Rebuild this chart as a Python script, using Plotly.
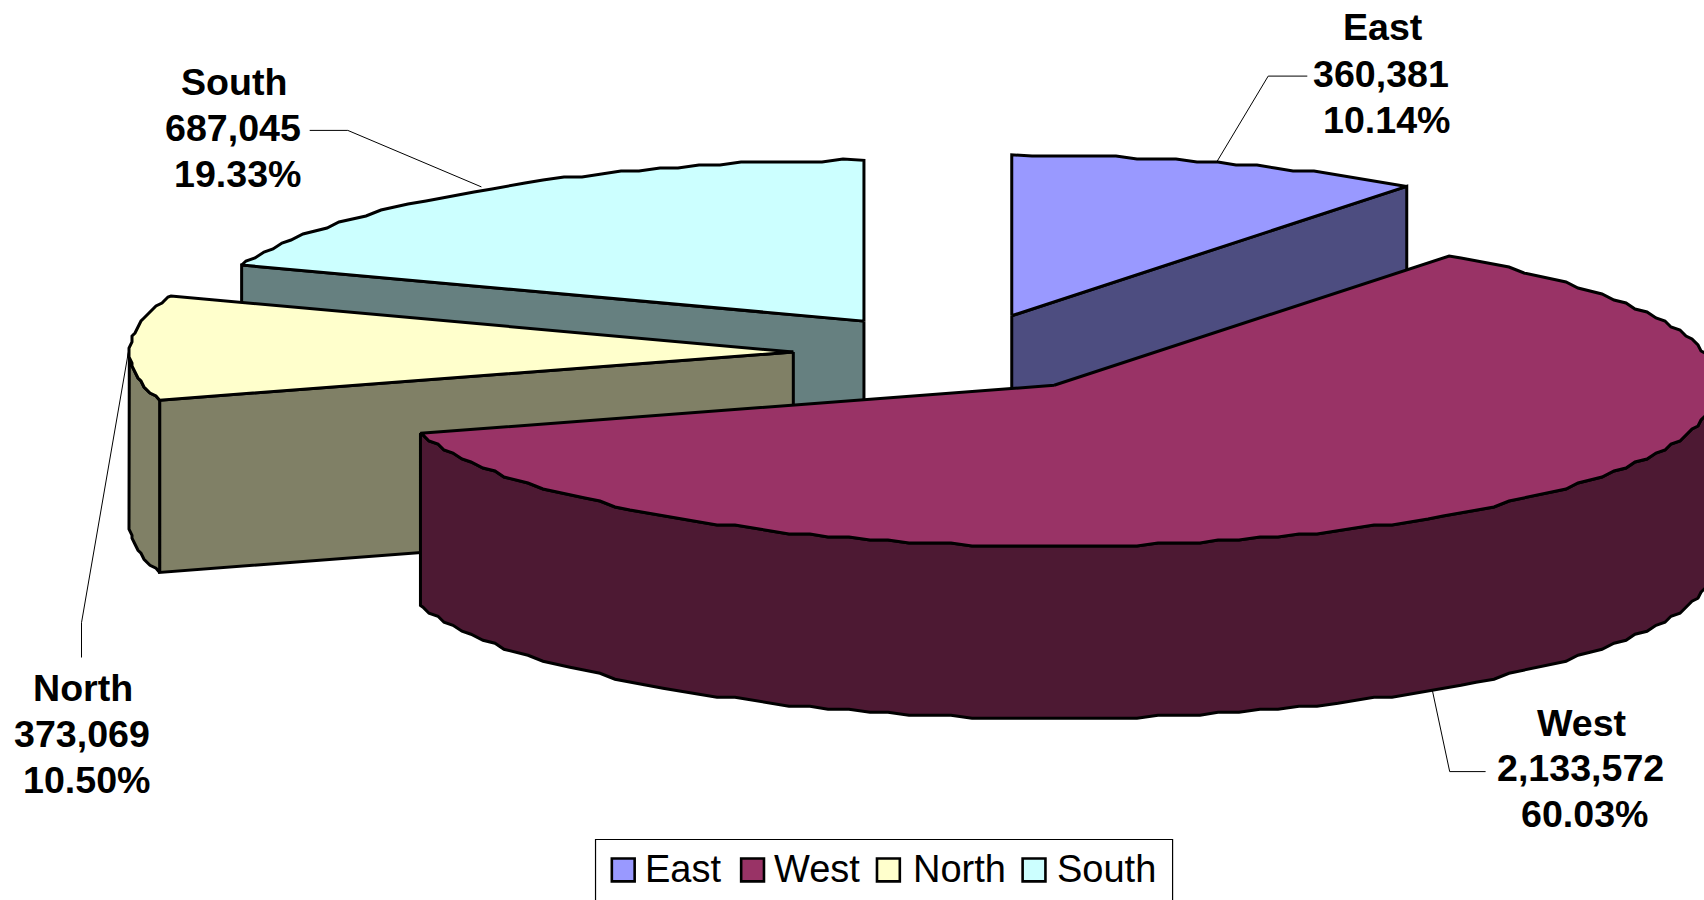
import math
import plotly.graph_objects as go

# ---- data -------------------------------------------------------------
categories = ["East", "West", "North", "South"]
values = [360381, 2133572, 373069, 687045]

# ---- styles ------------------------------------------------------------
top_colors = ["#9999FF", "#993366", "#FFFFCC", "#CCFFFF"]
side_colors = ["#4D4D80", "#4D1933", "#808066", "#668080"]

W, H = 1704, 900
S = 1704 / 1568  # reference layout was measured on a 1568 wide view
RX, RY, DEPTH = 611 * S, 148 * S, 158.5 * S
LW = 3
SNAP = 3.0
STEP = 1.8

apex = {
    "East": (931 * S, 290.5 * S),
    "West": (970 * S, 354.5 * S),
    "North": (730 * S, 324 * S),
    "South": (795 * S, 295.5 * S),
}
total = sum(values)
angles = {}
a = 0.0
for c, v in zip(categories, values):
    angles[c] = (a, a + 360 * v / total)
    a += 360 * v / total


def rim(cat, a0, a1):
    """Points on the projected circle, snapped like a low resolution drawing."""
    cx, cy = apex[cat]
    inner = [STEP * k for k in range(int(a0 / STEP) + 1, int(a1 / STEP) + 1)
             if a0 < STEP * k < a1]
    pts = []
    for d in [a0] + inner + [a1]:
        t = math.radians(d)
        x = cx + RX * math.sin(t)
        y = cy - RY * math.cos(t)
        if d not in (a0, a1):
            x = round(x / SNAP) * SNAP
            y = round(y / SNAP) * SNAP
        pts.append((x, y))
    return pts


def poly(fig, pts, color, name):
    xs = [p[0] for p in pts] + [pts[0][0]]
    ys = [p[1] for p in pts] + [pts[0][1]]
    fig.add_trace(go.Scatter(
        x=xs, y=ys, mode="lines", fill="toself", fillcolor=color, name=name,
        line=dict(color="black", width=LW), showlegend=False, hoverinfo="skip",
    ))


def top(fig, cat, color):
    a0, a1 = angles[cat]
    poly(fig, [apex[cat]] + rim(cat, a0, a1), color, cat)


def cut_face(fig, cat, ang, color):
    cx, cy = apex[cat]
    t = math.radians(ang)
    ex, ey = cx + RX * math.sin(t), cy - RY * math.cos(t)
    poly(fig, [(cx, cy), (ex, ey), (ex, ey + DEPTH), (cx, cy + DEPTH)], color, cat)


def outer_wall(fig, cat, a0, a1, color):
    pts = rim(cat, a0, a1)
    low = [(x, y + DEPTH) for x, y in reversed(pts)]
    poly(fig, pts + low, color, cat)


fig = go.Figure()
idx = {c: i for i, c in enumerate(categories)}

# South (furthest back)
cut_face(fig, "South", angles["South"][0], side_colors[idx["South"]])
top(fig, "South", top_colors[idx["South"]])
# East
cut_face(fig, "East", angles["East"][1], side_colors[idx["East"]])
top(fig, "East", top_colors[idx["East"]])
# North
cut_face(fig, "North", angles["North"][0], side_colors[idx["North"]])
outer_wall(fig, "North", angles["North"][0], 270, side_colors[idx["North"]])
top(fig, "North", top_colors[idx["North"]])
# West (front)
outer_wall(fig, "West", 88, angles["West"][1], side_colors[idx["West"]])
top(fig, "West", top_colors[idx["West"]])

# ---- data labels -------------------------------------------------------
label_x = {
    "East": (1273, 1271, 1276),
    "South": (215, 214, 219),
    "North": (76, 75, 80),
    "West": (1456, 1454, 1458),
}
label_y = {
    "East": (25, 68, 110),
    "South": (75, 118, 160),
    "North": (633, 675, 718),
    "West": (665, 707, 749),
}
leaders = {
    "East": [(1119, 150), (1167, 70), (1203, 70)],
    "South": [(443, 172), (320, 120), (285, 120)],
    "North": [(118, 325), (75, 573), (75, 605)],
    "West": [(1318, 635), (1334, 710), (1367, 710)],
}
annotations = []
shapes = []
LABEL_FONT = dict(family="Liberation Sans", size=37.6, color="black")
for c, v in zip(categories, values):
    lines = [f"<b>{c}</b>", f"<b>{v:,}</b>", f"<b>{100 * v / total:.2f}%</b>"]
    for text, lx, ly in zip(lines, label_x[c], label_y[c]):
        annotations.append(dict(x=lx * S, y=ly * S, text=text, showarrow=False,
                                xref="x", yref="y", xanchor="center", yanchor="middle",
                                font=LABEL_FONT))
    pts = leaders[c]
    path = "M " + " L ".join(f"{x * S:.1f},{y * S:.1f}" for x, y in pts)
    shapes.append(dict(type="path", path=path, xref="x", yref="y",
                       line=dict(color="black", width=1)))

# ---- legend ------------------------------------------------------------
shapes.append(dict(type="rect", x0=548 * S, x1=1079 * S, y0=772.5 * S, y1=H + 20,
                   xref="x", yref="y", line=dict(color="black", width=1.2),
                   fillcolor="white"))
swatch_x = [563, 682, 807, 941]
legend_text_x = [592, 710, 838, 971]
for c, sx, tx in zip(categories, swatch_x, legend_text_x):
    shapes.append(dict(type="rect", x0=sx * S, x1=(sx + 21) * S, y0=790 * S, y1=811 * S,
                       xref="x", yref="y", line=dict(color="black", width=2.6),
                       fillcolor=top_colors[idx[c]]))
    annotations.append(dict(x=tx * S, y=800 * S, text=c, showarrow=False,
                            xref="x", yref="y", xanchor="left", yanchor="middle",
                            font=dict(family="Liberation Sans", size=38, color="black")))

fig.update_layout(
    width=W, height=H, margin=dict(l=0, r=0, t=0, b=0),
    paper_bgcolor="white", plot_bgcolor="white", showlegend=False,
    xaxis=dict(range=[0, W], visible=False, fixedrange=True),
    yaxis=dict(range=[H, 0], visible=False, fixedrange=True),
    annotations=annotations, shapes=shapes,
)
fig.write_html("out.html", config={"displayModeBar": False},
               post_script="document.body.style.margin='0';")
